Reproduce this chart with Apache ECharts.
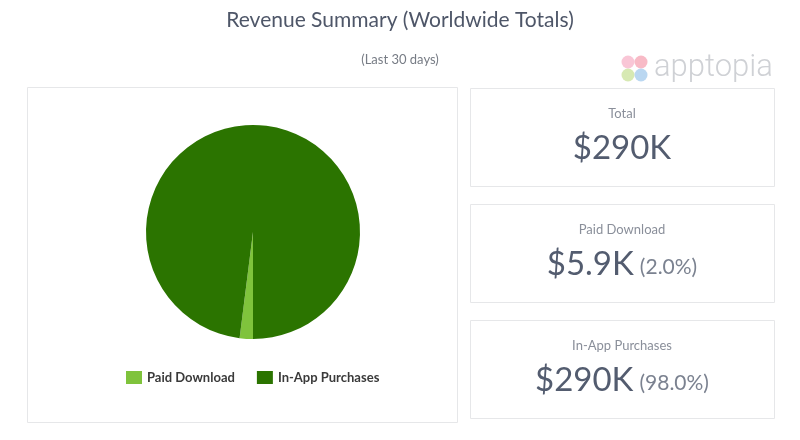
<!DOCTYPE html>
<html>
<head>
<meta charset="utf-8">
<script src="https://cdn.jsdelivr.net/npm/echarts@6/dist/echarts.min.js"></script>
<style>
html,body{margin:0;padding:0;background:#fff;}
#main{width:800px;height:440px;}
</style>
</head>
<body>
<div id="main"></div>
<script>
// ---- data ----
const categories = ['Paid Download', 'In-App Purchases'];
const sharePercent = [2.0, 98.0];
const colors = ['#7fc33c', '#2b7400'];
const cardLabels = ['Total', 'Paid Download', 'In-App Purchases'];
const cardValues = ['$290K', '$5.9K', '$290K'];
const cardPercents = ['', '(2.0%)', '(98.0%)'];

const chart = echarts.init(document.getElementById('main'));
const FONT = 'Lato, "Open Sans", sans-serif';

const cardTops = [88, 204, 320];
const cardGraphics = [];
cardTops.forEach((top, i) => {
  cardGraphics.push({
    type: 'rect', shape: {x: 470.5, y: top + 0.5, width: 304, height: 98},
    style: {fill: '#fff', stroke: '#e6e7e9', lineWidth: 1}, z: 0
  });
  cardGraphics.push({
    type: 'text', x: 622, y: top + 26,
    style: {text: cardLabels[i], fill: '#8a8f9a', font: '13px ' + FONT, textAlign: 'center', textVerticalAlign: 'middle'}, z: 1
  });
  const txt = cardPercents[i] ? '{a|' + cardValues[i] + '}{b|' + cardPercents[i] + '}' : '{a|' + cardValues[i] + '}';
  cardGraphics.push({
    type: 'text', x: 622, y: top + 60,
    style: {
      text: txt, textAlign: 'center', textVerticalAlign: 'middle',
      rich: {
        a: {fontFamily: FONT, fontSize: 33, fill: '#535c6f'},
        b: {fontFamily: FONT, fontSize: 21, fill: '#7b8290', padding: [6, 0, 0, 6]}
      }
    }, z: 1
  });
});

const option = {
  backgroundColor: '#fff',
  title: [
    {text: 'Revenue Summary (Worldwide Totals)', left: 'center', top: 5,
     textStyle: {fontFamily: FONT, fontSize: 21, fontWeight: 'normal', color: '#4e5668'}},
    {text: '(Last 30 days)', left: 'center', top: 48,
     textStyle: {fontFamily: FONT, fontSize: 13, fontWeight: 'normal', color: '#777c85'}}
  ],
  legend: {
    left: 121, top: 366, itemWidth: 16, itemHeight: 13, itemGap: 22,
    icon: 'rect',
    data: categories,
    textStyle: {fontFamily: FONT, fontSize: 13, fontWeight: 'bold', color: '#3a3a3a'}
  },
  graphic: [
    {type: 'rect', shape: {x: 27.5, y: 87.5, width: 430, height: 335},
     style: {fill: '#fff', stroke: '#e6e7e9', lineWidth: 1}, z: 0},
    ...cardGraphics,
    // apptopia logo
    {type: 'circle', shape: {cx: 628, cy: 62, r: 6.5}, style: {fill: '#f7b8cc', opacity: 0.8}, z: 1},
    {type: 'circle', shape: {cx: 641, cy: 62, r: 6.5}, style: {fill: '#f6a9b8', opacity: 0.8}, z: 1},
    {type: 'circle', shape: {cx: 628, cy: 75, r: 6.5}, style: {fill: '#cde3a0', opacity: 0.8}, z: 1},
    {type: 'circle', shape: {cx: 641, cy: 75, r: 6.5}, style: {fill: '#a9cdee', opacity: 0.8}, z: 1},
    {type: 'text', x: 654, y: 68,
     style: {text: 'apptopia', fill: '#cfd1d5', font: '300 31px Roboto, sans-serif', textVerticalAlign: 'middle'}, z: 1}
  ],
  series: [{
    type: 'pie',
    center: [253, 232],
    radius: 107,
    startAngle: 270,
    clockwise: true,
    label: {show: false},
    labelLine: {show: false},
    emphasis: {disabled: true},
    itemStyle: {borderWidth: 0},
    data: categories.map((c, i) => ({name: c, value: sharePercent[i], itemStyle: {color: colors[i]}}))
  }]
};
chart.setOption(option);
</script>
</body>
</html>
